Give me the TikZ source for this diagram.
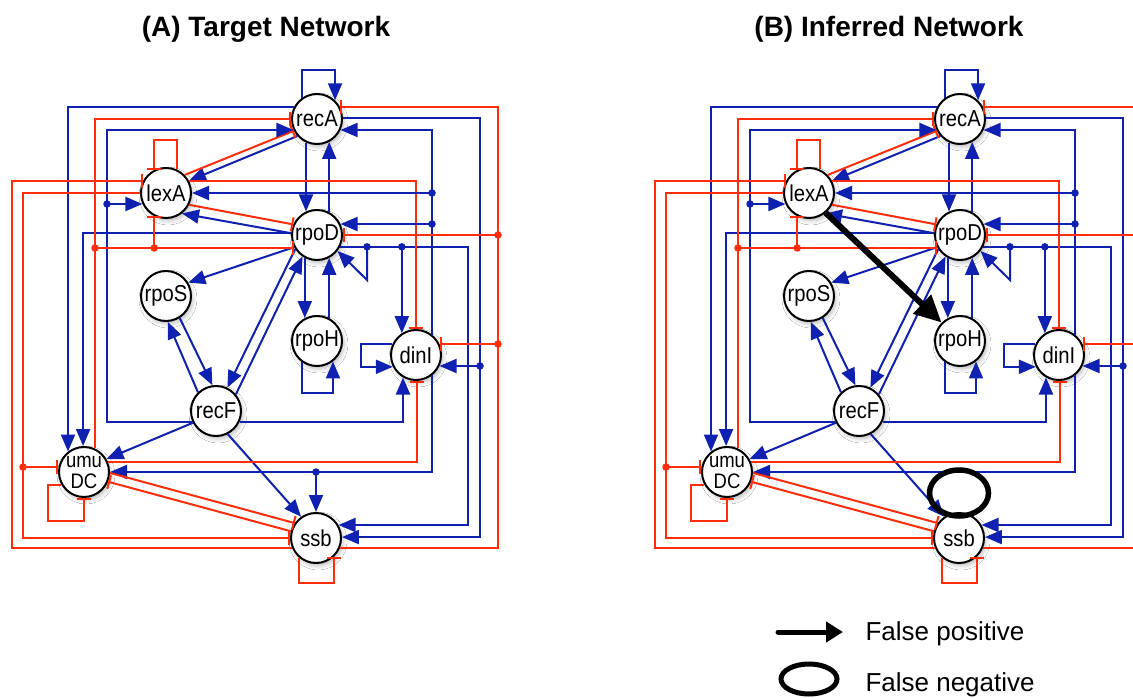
\documentclass[tikz,border=0pt]{standalone}
\usepackage{fontspec}
\setmainfont{Liberation Sans}
\newfontfamily\genefont[FakeStretch=0.88]{Liberation Sans}
\usetikzlibrary{arrows.meta,shapes.geometric,shadows.blur}

\definecolor{actblue}{RGB}{16,32,176}
\definecolor{inhred}{RGB}{255,45,10}

\tikzset{
  gene/.style={circle, draw=black, line width=2pt, fill=white, minimum size=50pt,
    inner sep=0pt, align=center, font=\genefont\fontsize{23}{19}\selectfont,
    blur shadow={shadow xshift=2pt, shadow yshift=-3pt, shadow blur radius=4pt, shadow opacity=25}},
  act/.style={draw=actblue, line width=2pt, -{Triangle[length=17pt,width=14pt]}},
  inh/.style={draw=inhred, line width=2pt, -{Bar[width=14pt]}},
  bdot/.style={circle, fill=actblue, inner sep=0pt, minimum size=7.5pt},
  rdot/.style={circle, fill=inhred, inner sep=0pt, minimum size=7.5pt},
  ttl/.style={font=\bfseries\fontsize{28}{28}\selectfont, anchor=base},
  lgtext/.style={font=\fontsize{26}{26}\selectfont, anchor=base west},
}

% The SOS gene network; #1 is a prefix for the node names
\newcommand\grn[1]{%
  \node[gene] (#1recA)  at (317,119) {recA};
  \node[gene] (#1lexA)  at (166,193) {lexA};
  \node[gene] (#1rpoD)  at (317,235) {rpoD};
  \node[gene] (#1rpoS)  at (166,296) {rpoS};
  \node[gene] (#1rpoH)  at (317,341) {rpoH};
  \node[gene] (#1dinI)  at (416,355) {dinI};
  \node[gene] (#1recF)  at (216,411) {recF};
  \node[gene, font=\genefont\fontsize{21}{21}\selectfont] (#1umuDC) at (84,472) {umu\\DC};
  \node[gene] (#1ssb)   at (316,538) {ssb};
  % vertical rails
  \coordinate (#1l1) at (12,0);
  \coordinate (#1l2) at (23,0);
  \coordinate (#1l6) at (107,0);
  \coordinate (#1r1) at (367,0);
  \coordinate (#1r5) at (468,0);
  \coordinate (#1r6) at (480,0);
  \coordinate (#1r7) at (498,0);
  % corners of the self loops
  \coordinate (#1ka) at (317,70);
  \coordinate (#1kl) at (166,140);
  \coordinate (#1kh) at (317,393);
  \coordinate (#1kd) at (361,355);
  \coordinate (#1ku) at (48,521);
  \coordinate (#1ks) at (316,583);
  \coordinate (#1kr) at (367,280);
  % self loops
  \draw[act] (#1recA.125) |- (#1ka) -| (#1recA.46);
  \draw[inh] (#1lexA.65) |- (#1kl) -| (#1lexA.118);
  \draw[act] (#1rpoH.235) |- (#1kh) -| (#1rpoH.308);
  \draw[act] (#1dinI.155) -| (#1kd) |- (#1dinI.207);
  \draw[inh] (#1umuDC.210) -| (#1ku) -| (#1umuDC.270);
  \draw[inh] (#1ssb.229) |- (#1ks) -| (#1ssb.314);
  \draw[act] (#1r1 |- #1rpoD.333) -- (#1kr) -- (#1rpoD.322);
  % recA
  \draw[act] (#1recA.245) -- (#1rpoD.115);
  \draw[act] (#1rpoD.62) -- (#1recA.298);
  \draw[act] (#1recA.221) -- (#1lexA.28);
  \draw[inh] (#1lexA.44) -- (#1recA.207);
  \draw[act] (#1recA.153) -| (#1umuDC.128);
  \draw[act] (#1recA.2) -| (#1r6 |- #1ssb.2) -- (#1ssb.2);
  \draw[act] (#1r6 |- #1dinI.335) -- (#1dinI.335);
  % recF
  \draw[act] (#1recF.205) -- (#1l6 |- #1recF.205) |- (#1recA.205);
  \draw[act] (#1l6 |- #1lexA.205) -- (#1lexA.205);
  \draw[act] (#1recF.335) -| (#1dinI.240);
  \draw[act] (#1recF.40) -- (#1rpoD.236);
  \draw[act] (#1recF.134) -- (#1rpoS.274);
  \draw[act] (#1recF.207) -- (#1umuDC.30);
  \draw[act] (#1recF.297) -- (#1ssb.125);
  % rpoS
  \draw[act] (#1rpoS.302) -- (#1recF.98);
  % rpoD
  \draw[act] (#1rpoD.176) -| (#1umuDC.92);
  \draw[act] (#1rpoD.176) -- (#1lexA.308);
  \draw[act] (#1rpoD.208) -- (#1rpoS.31);
  \draw[act] (#1rpoD.213) -- (#1recF.64);
  \draw[act] (#1rpoD.242) -- (#1rpoH.118);
  \draw[act] (#1rpoH.62) -- (#1rpoD.298);
  \draw[act] (#1rpoD.333) -| (#1r5 |- #1ssb.30) -- (#1ssb.30);
  \draw[act] (#1dinI.123 |- #1rpoD.333) -- (#1dinI.123);
  % lexA
  \draw[inh] (#1lexA.333) -- (#1rpoD.156);
  \draw[inh] (#1lexA.27) -| (#1dinI.90);
  \draw[inh] (#1lexA.180) -| (#1l2 |- #1ssb.180) -- (#1ssb.180);
  \draw[inh] (#1l2 |- #1umuDC.169) -- (#1umuDC.169);
  % dinI
  \draw[act] (#1dinI.52) |- (#1recA.335);
  \draw[act] (#1dinI.52 |- #1lexA.0) -- (#1lexA.0);
  \draw[act] (#1dinI.52 |- #1rpoD.25) -- (#1rpoD.25);
  \draw[act] (#1dinI.308) |- (#1umuDC.0);
  % umuDC
  \draw[inh] (#1umuDC.65) |- (#1recA.180);
  \draw[inh] (#1umuDC.65 |- #1rpoD.210) -- (#1rpoD.210);
  \draw[inh] (#1lexA.243 |- #1rpoD.210) -- (#1lexA.243);
  \draw[inh] (#1umuDC.23) -| (#1dinI.272);
  \draw[inh] (#1umuDC.358) -- (#1ssb.145);
  % ssb
  \draw[inh] (#1ssb.165) -- (#1umuDC.338);
  \draw[inh] (#1ssb.203) -| (#1l1 |- #1lexA.153) -- (#1lexA.153);
  \draw[inh] (#1ssb.337) -| (#1r7 |- #1recA.27) -- (#1recA.27);
  \draw[inh] (#1r7 |- #1rpoD.0) -- (#1rpoD.0);
  \draw[inh] (#1r7 |- #1dinI.25) -- (#1dinI.25);
  % branch points
  \node[bdot] at (#1l6 |- #1lexA.205) {};
  \node[bdot] at (#1dinI.52 |- #1lexA.0) {};
  \node[bdot] at (#1dinI.52 |- #1rpoD.25) {};
  \node[bdot] at (#1r1 |- #1rpoD.333) {};
  \node[bdot] at (#1dinI.123 |- #1rpoD.333) {};
  \node[bdot] at (#1r6 |- #1dinI.335) {};
  \node[rdot] at (#1umuDC.65 |- #1rpoD.210) {};
  \node[rdot] at (#1lexA.243 |- #1rpoD.210) {};
  \node[rdot] at (#1l2 |- #1umuDC.169) {};
  \node[rdot] at (#1r7 |- #1rpoD.0) {};
  \node[rdot] at (#1r7 |- #1dinI.25) {};
}

\begin{document}
\begin{tikzpicture}[x=1pt, y=-1pt]
  \clip (0,0) rectangle (1133,698);
  \fill[white] (0,0) rectangle (1133,698);

  % (A) target network
  \node[ttl] (ttlA) at (266,37) {(A) Target Network};
  \grn{a}
  \draw[act] (assb.90 |- aumuDC.0) -- (assb.90);
  \node[bdot] at (assb.90 |- aumuDC.0) {};

  % (B) inferred network
  \node[ttl] (ttlB) at (889,37) {(B) Inferred Network};
  \begin{scope}[xshift=643pt]
    \grn{b}
  \end{scope}
  % edge found but absent from the target
  \draw[line width=6pt, -{Triangle[length=27pt,width=25pt]}] (blexA.310) -- (brpoH.135);
  % edge of the target that was missed
  \node[ellipse, draw=black, line width=5.5pt, minimum width=59pt, minimum height=46pt,
        yshift=45pt] (bmiss) at (bssb) {};

  % legend
  \coordinate (lgS) at (778,632);
  \coordinate (lgE) at (843,632);
  \draw[line width=5pt, line cap=round, -{Triangle[length=17pt,width=20pt]}] (lgS) -- (lgE);
  \node[lgtext] (lgFP) at (862,640) {False positive};
  \node[ellipse, draw=black, line width=5pt, minimum width=56pt, minimum height=30pt] (lgO) at (809,679) {};
  \node[lgtext] (lgFN) at (862,691) {False negative};
\end{tikzpicture}
\end{document}
